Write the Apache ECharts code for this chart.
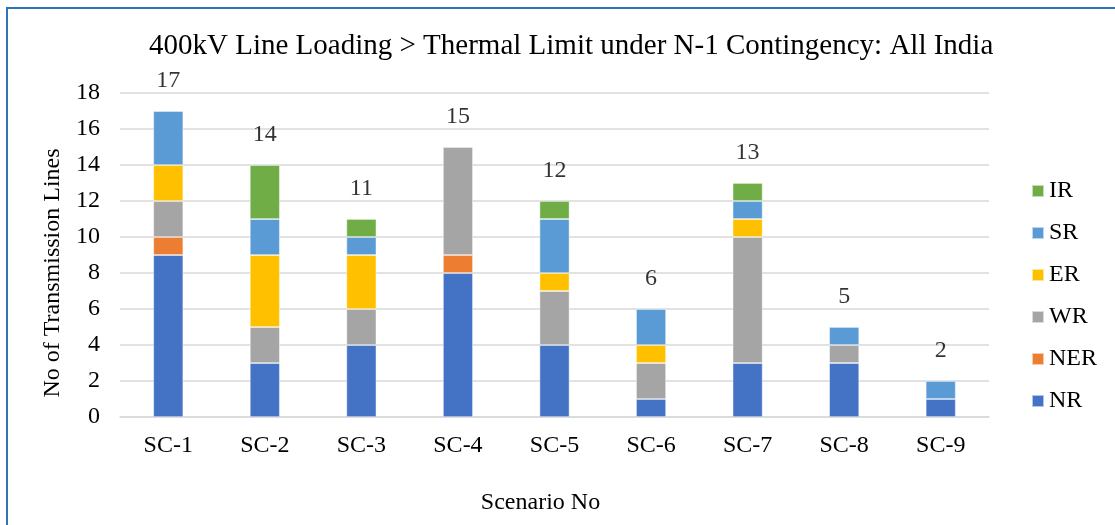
<!DOCTYPE html>
<html>
<head>
<meta charset="utf-8">
<script src="https://cdn.jsdelivr.net/npm/echarts@6/dist/echarts.min.js"></script>
<style>
  html, body { margin: 0; padding: 0; background: #fff; overflow: hidden; }
  #frame { position: absolute; left: 6px; top: 7px; width: 1200px; height: 600px;
           border-left: 2px solid #2E75B6; border-top: 2px solid #2E75B6; box-sizing: border-box; }
  #chart { position: absolute; left: 0; top: 0; width: 1115px; height: 525px; }
</style>
</head>
<body>
<div id="frame"></div>
<div id="chart"></div>
<script>
// Scenarios and number of 400kV lines above thermal limit, by region
const scenarios = ['SC-1', 'SC-2', 'SC-3', 'SC-4', 'SC-5', 'SC-6', 'SC-7', 'SC-8', 'SC-9'];
const NR  = [9, 3, 4, 8, 4, 1, 3, 3, 1];
const NER = [1, 0, 0, 1, 0, 0, 0, 0, 0];
const WR  = [2, 2, 2, 6, 3, 2, 7, 1, 0];
const ER  = [2, 4, 3, 0, 1, 1, 1, 0, 0];
const SR  = [3, 2, 1, 0, 3, 2, 1, 1, 1];
const IR  = [0, 3, 1, 0, 1, 0, 1, 0, 0];
const yTicks = [0, 2, 4, 6, 8, 10, 12, 14, 16, 18];

const regions = [
  { name: 'NR',  data: NR,  color: '#4472C4' },
  { name: 'NER', data: NER, color: '#ED7D31' },
  { name: 'WR',  data: WR,  color: '#A5A5A5' },
  { name: 'ER',  data: ER,  color: '#FFC000' },
  { name: 'SR',  data: SR,  color: '#5B9BD5' },
  { name: 'IR',  data: IR,  color: '#70AD47' }
];
const totals = scenarios.map((_, i) => regions.reduce((s, r) => s + r.data[i], 0));

const font = '"Liberation Serif", "Times New Roman", serif';
const fs = 24;
const chart = echarts.init(document.getElementById('chart'));

const series = regions.map(r => ({
  name: r.name,
  type: 'bar',
  stack: 'all',
  barWidth: 30,
  data: r.data.map(v => v === 0 ? null : v),
  itemStyle: { color: r.color, borderColor: 'rgba(255,255,255,0.6)', borderWidth: 0.75 }
}));
series.push({
  name: 'Total',
  type: 'scatter',
  data: totals,
  symbolSize: 0,
  silent: true,
  label: { show: true, position: 'top', distance: 18, color: '#000', fontFamily: font, fontSize: fs }
});

chart.setOption({
  animation: false,
  textStyle: { fontFamily: font },
  title: {
    text: '400kV Line Loading > Thermal Limit under N-1 Contingency: All India',
    left: 144, top: 27,
    textStyle: { fontFamily: font, fontSize: 29, fontWeight: 'normal', color: '#000' }
  },
  legend: {
    data: ['IR', 'SR', 'ER', 'WR', 'NER', 'NR'],
    orient: 'vertical',
    left: 1031, top: 179,
    padding: 0,
    itemWidth: 12, itemHeight: 12, itemGap: 18,
    icon: 'rect',
    textStyle: { fontFamily: font, fontSize: fs, color: '#000' }
  },
  grid: { left: 120, right: 126, top: 93, bottom: 108, containLabel: false },
  xAxis: {
    type: 'category',
    data: scenarios,
    name: 'Scenario No',
    nameLocation: 'middle',
    nameGap: 74,
    nameTextStyle: { fontFamily: font, fontSize: fs, color: '#000', padding: [0, 28, 0, 0] },
    axisLine: { lineStyle: { color: '#D9D9D9', width: 1.5 } },
    axisTick: { show: false },
    axisLabel: { fontFamily: font, fontSize: fs, color: '#000', margin: 17 }
  },
  yAxis: {
    type: 'value',
    min: 0, max: 18, interval: 2,
    name: 'No of Transmission Lines',
    nameLocation: 'middle',
    nameGap: 53,
    nameTextStyle: { fontFamily: font, fontSize: fs, color: '#000', padding: [0, 36, 0, 0] },
    axisLine: { show: false },
    axisTick: { show: false },
    splitLine: { lineStyle: { color: '#D9D9D9', width: 1.5 } },
    axisLabel: {
      fontFamily: font, fontSize: fs, color: '#000', margin: 20,
      formatter: v => yTicks.includes(v) ? String(v) : ''
    }
  },
  series: series
});
</script>
</body>
</html>
